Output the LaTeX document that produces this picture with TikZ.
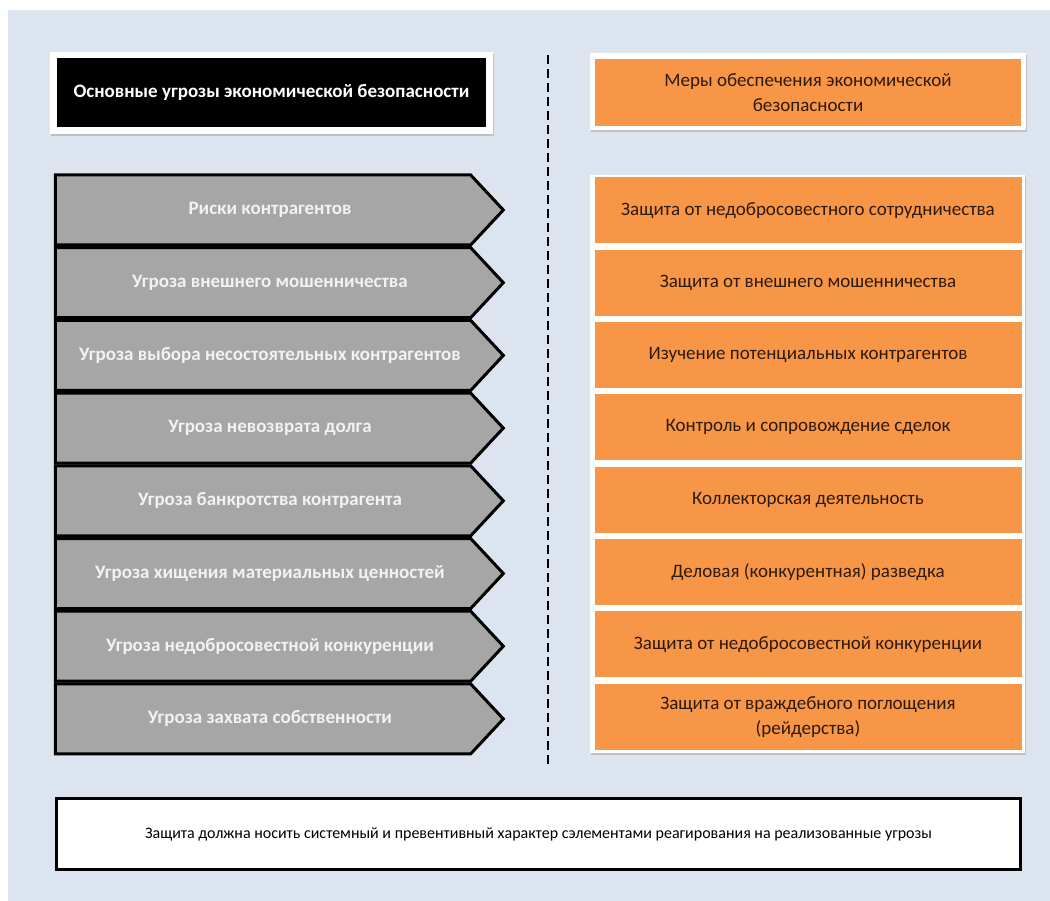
\documentclass[tikz,border=0pt]{standalone}
\usepackage{fontspec}
\setmainfont{Carlito}
\usetikzlibrary{shapes.symbols}
\usetikzlibrary{shadows}

\definecolor{panelblue}{HTML}{DCE4EF}
\definecolor{threatgray}{HTML}{A6A6A6}
\definecolor{measureorange}{HTML}{F79646}
\definecolor{measuretext}{HTML}{2E1A0E}

\tikzset{
  threat/.style={signal, signal to=east, draw=black, line width=3pt, fill=threatgray,
    minimum width=448pt, minimum height=70pt, signal pointer angle=94,
    text=white!95!black, font=\bfseries\fontsize{19}{22}\selectfont, inner sep=0pt},
  measure/.style={rectangle, fill=measureorange, minimum width=427pt, minimum height=66pt,
    text=measuretext, font=\fontsize{19}{25}\selectfont, align=center, inner sep=0pt},
  whiteframe/.style={fill=white, drop shadow={opacity=.35, shadow xshift=1pt, shadow yshift=-2pt}},
}

\begin{document}
\begin{tikzpicture}[x=1pt,y=-1pt]
\useasboundingbox (0,0) rectangle (1050,901);
\fill[white] (0,0) rectangle (1050,901);
\fill[panelblue] (8,10) rectangle (1050,901); % panel

% headers
\fill[whiteframe] (50,52) rectangle (493,134);
\node[fill=black, text=white, minimum width=429pt, minimum height=69pt, inner sep=0pt,
  font=\bfseries\fontsize{19}{22}\selectfont] (threathead) at (271.5,92.5)
  {Основные угрозы экономической безопасности};
\fill[whiteframe] (590,53) rectangle (1026,130);
\node[measure, minimum width=426pt, minimum height=67pt] (measurehead) at (808,92.5)
  {Меры обеспечения экономической\\безопасности};

% separator
\draw[line width=2pt, dash pattern=on 9pt off 5pt] (548,55) -- (548,765);

% threats
\foreach \txt [count=\i] in {Риски контрагентов, Угроза внешнего мошенничества,
  Угроза выбора несостоятельных контрагентов, Угроза невозврата долга,
  Угроза банкротства контрагента, Угроза хищения материальных ценностей,
  Угроза недобросовестной конкуренции, Угроза захвата собственности}
  \node[threat] (threat\i) at (263,210+72.7*\i-72.7) {\hspace*{14pt}\txt};

% measures
\fill[whiteframe] (590,175) rectangle (1025,753);
\foreach \txt [count=\i] in {Защита от недобросовестного сотрудничества,
  Защита от внешнего мошенничества, Изучение потенциальных контрагентов,
  Контроль и сопровождение сделок, Коллекторская деятельность,
  Деловая (конкурентная) разведка, Защита от недобросовестной конкуренции,
  {Защита от враждебного поглощения\\(рейдерства)}}
  \node[measure] (measure\i) at (808,210.5+72.3*\i-72.3) {\txt};

% conclusion
\node[draw=black, line width=3pt, fill=white, minimum width=964pt, minimum height=71pt,
  inner sep=0pt, font=\fontsize{16}{18}\selectfont] (summary) at (538.5,834)
  {Защита должна носить системный и превентивный характер сэлементами реагирования на реализованные угрозы};
\end{tikzpicture}
\end{document}
